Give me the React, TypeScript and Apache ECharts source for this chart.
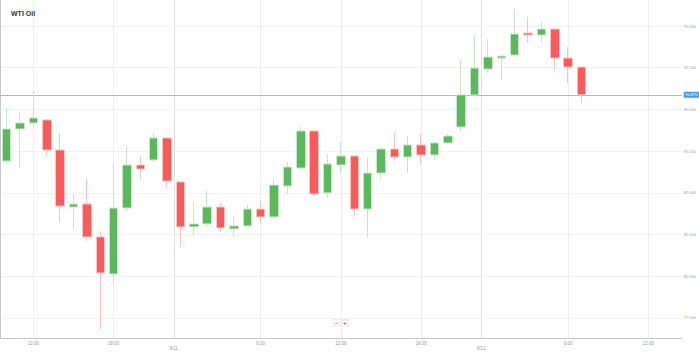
import React, { useEffect, useRef } from 'react';
import * as echarts from 'echarts';

// hourly categories (44 candles + empty slots on the right)
const times = [
  '10:00', '11:00', '12:00', '13:00', '14:00', '15:00', '16:00', '17:00', '18:00', '19:00',
  '20:00', '21:00', '22:00', '0:00', '1:00', '2:00', '3:00', '4:00', '5:00', '6:00',
  '7:00', '8:00', '9:00', '10:00', '11:00', '12:00', '13:00', '14:00', '15:00', '16:00',
  '17:00', '18:00', '19:00', '20:00', '21:00', '22:00', '0:00', '1:00', '2:00', '3:00',
  '4:00', '5:00', '6:00', '7:00', '8:00', '9:00', '10:00', '11:00', '12:00', '13:00', '14:00',
];
const timeLabelIdx = [2, 8, 19, 25, 31, 42, 48];
const timeGridPos = [2.5, 8.5, 19.5, 25.5, 31.5, 42.5, 48.5];
const dateLabels = ['9/11', '9/12'];
const dateGridPos = [13, 36];

const opens = [86.91, 88.83, 89.19, 89.37, 87.57, 84.15, 84.33, 82.36, 80.14, 84.09, 86.67, 86.97, 88.29, 85.65, 82.96, 83.14, 84.15, 82.84, 83.02, 84.03, 83.56, 85.41, 86.49, 88.71, 85.0, 86.67, 87.21, 84.03, 86.19, 87.63, 87.15, 87.87, 87.27, 87.99, 88.95, 90.87, 92.42, 93.08, 93.26, 94.58, 94.46, 94.82, 93.08, 92.54];
const closes = [88.83, 89.19, 89.49, 87.57, 84.21, 84.33, 82.36, 80.2, 84.09, 86.67, 86.43, 88.29, 85.71, 82.96, 83.14, 84.15, 82.9, 83.02, 84.03, 83.56, 85.47, 86.55, 88.71, 84.93, 86.73, 87.21, 84.03, 86.19, 87.63, 87.15, 87.87, 87.27, 87.99, 88.41, 90.87, 92.48, 93.14, 93.2, 94.52, 94.46, 94.82, 93.08, 92.54, 90.875];
const highs = [90.15, 89.85, 91.11, 89.43, 88.53, 84.93, 85.83, 82.66, 86.73, 87.81, 87.21, 88.59, 88.35, 85.71, 84.45, 85.11, 84.39, 83.62, 84.27, 84.57, 85.77, 86.85, 88.95, 88.77, 87.33, 88.05, 87.27, 87.09, 87.69, 88.65, 88.41, 88.53, 88.05, 88.59, 93.02, 94.4, 94.22, 93.26, 96.02, 95.54, 95.24, 94.88, 93.74, 92.6];
const lows = [86.79, 86.55, 88.83, 87.21, 83.2, 82.84, 82.12, 76.84, 79.6, 83.91, 85.83, 86.85, 85.29, 81.82, 82.48, 82.96, 82.66, 82.36, 82.96, 83.2, 83.44, 84.93, 86.43, 84.81, 84.69, 86.19, 83.56, 82.3, 85.83, 86.91, 86.19, 86.73, 86.97, 87.93, 88.71, 90.81, 92.18, 91.76, 93.2, 93.98, 94.04, 92.36, 91.58, 90.39];

const yTicks = [77.5, 80, 82.5, 85, 87.5, 90, 92.5, 95];
const lastPrice = 90.875;

const FONT = 'Liberation Sans, Arial, sans-serif';

export default function App() {
  const ref = useRef<HTMLDivElement>(null);
  useEffect(() => {
    if (!ref.current) return;
    const chart = echarts.init(ref.current, null, { renderer: 'svg' });
    const candleData = opens.map((o, i) => [o, closes[i], lows[i], highs[i]]);
    const vLines = [
      ...timeGridPos.map((x) => ({ xAxis: x, lineStyle: { color: '#efefef', width: 1, type: 'solid' } })),
      ...dateGridPos.map((x) => ({ xAxis: x, lineStyle: { color: '#dedede', width: 1, type: 'solid' } })),
    ];
    const hLines = yTicks.map((y) => ({ yAxis: y, lineStyle: { color: '#f1f1f1', width: 1, type: 'solid' } }));
    chart.setOption({
      animation: false,
      backgroundColor: '#fff',
      title: {
        text: 'WTI Oil',
        left: 6,
        top: 5,
        textStyle: { fontSize: 7, fontWeight: 'bold', color: '#333', fontFamily: FONT },
      },
      grid: { left: 0, right: 16, top: 0, bottom: 15, containLabel: false },
      xAxis: [
        {
          type: 'category',
          data: times,
          boundaryGap: true,
          axisLine: { show: true, lineStyle: { color: '#c8c8c8' } },
          axisTick: { show: false },
          splitLine: { show: false },
          axisLabel: {
            interval: (idx: number) => timeLabelIdx.includes(idx),
            fontSize: 4.5,
            color: '#999',
            margin: 3,
            fontFamily: FONT,
          },
        },
        {
          type: 'value',
          min: 0,
          max: times.length,
          position: 'bottom',
          axisLine: { show: false },
          axisTick: { show: false },
          splitLine: { show: false },
          axisLabel: {
            customValues: dateGridPos,
            formatter: (v: number) => {
              const k = dateGridPos.indexOf(v);
              return k >= 0 ? dateLabels[k] : '';
            },
            fontSize: 4.5,
            color: '#999',
            margin: 8,
            fontFamily: FONT,
          },
        },
      ],
      yAxis: {
        type: 'value',
        position: 'right',
        min: 76.3,
        max: 96.56,
        axisLine: { show: true, lineStyle: { color: '#c8c8c8' } },
        axisTick: { show: false, customValues: yTicks },
        splitLine: { show: false },
        axisLabel: {
          customValues: yTicks,
          formatter: (v: number) => v.toFixed(3),
          fontSize: 4,
          color: '#999',
          margin: 2,
          fontFamily: FONT,
        },
      },
      series: [
        {
          type: 'line',
          xAxisIndex: 1,
          data: [],
          silent: true,
          z: 0,
          markLine: {
            silent: true,
            z: 0,
            symbol: 'none',
            label: { show: false },
            data: [...vLines, ...hLines],
          },
        },
        {
          type: 'candlestick',
          xAxisIndex: 0,
          data: candleData,
          barWidth: 9,
          z: 3,
          itemStyle: {
            color: '#5cb85c',
            color0: '#f95b5b',
            borderColor: '#c9e6c9',
            borderColor0: '#f9c4c4',
            borderWidth: 1,
          },
          markLine: {
            silent: true,
            z: 1,
            symbol: 'none',
            data: [{ yAxis: lastPrice }],
            lineStyle: { color: '#8cc6f0', width: 1, type: 'solid' },
            label: {
              show: true,
              position: 'end',
              formatter: lastPrice.toFixed(3),
              backgroundColor: '#3f9fe6',
              color: '#fff',
              fontSize: 4,
              padding: [1, 1.5],
              distance: 2,
              fontFamily: FONT,
            },
          },
        },
      ],
      graphic: [
        {
          type: 'group',
          left: 333,
          top: 319,
          children: [
            { type: 'rect', shape: { x: 0, y: 0, width: 7, height: 7 }, style: { fill: '#f7f7f7', stroke: '#dddddd', lineWidth: 0.5 } },
            { type: 'text', x: 3.5, y: 3.5, style: { text: '−', fontSize: 6, fill: '#555', align: 'center', verticalAlign: 'middle', fontFamily: FONT } },
            { type: 'rect', shape: { x: 8, y: 0, width: 7, height: 7 }, style: { fill: '#f7f7f7', stroke: '#dddddd', lineWidth: 0.5 } },
            { type: 'text', x: 11.5, y: 3.5, style: { text: '+', fontSize: 6, fill: '#555', align: 'center', verticalAlign: 'middle', fontFamily: FONT } },
          ],
        },
      ],
    });
    return () => chart.dispose();
  }, []);
  return (
    <div
      ref={ref}
      style={{ position: 'fixed', left: 0, top: 0, width: 699, height: 353, background: '#fff' }}
    />
  );
}
